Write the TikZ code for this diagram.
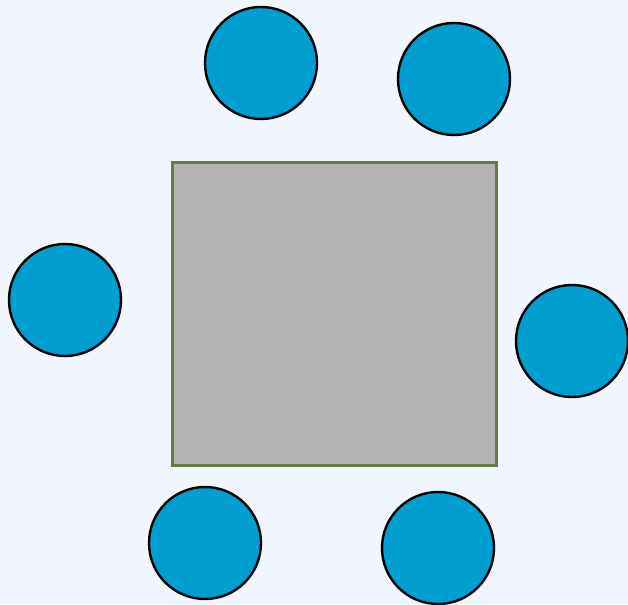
\documentclass[tikz,border=0pt]{standalone}
\definecolor{bgc}{HTML}{F0F5FE}
\definecolor{tablefill}{HTML}{B3B3B3}
\definecolor{tableline}{HTML}{667A45}
\definecolor{seatfill}{HTML}{009FD0}
\tikzset{
  seat/.style={circle, draw=black, fill=seatfill, line width=2.4pt, minimum size=112pt, inner sep=0pt},
  tablebox/.style={draw=tableline, fill=tablefill, line width=3pt, inner sep=0pt}
}
\begin{document}
\begin{tikzpicture}[x=1pt,y=-1pt]
\path[use as bounding box] (0,0) rectangle (628,604);
\clip (0,0) rectangle (628,604);
\fill[bgc] (0,0) rectangle (628,604);
\node[tablebox, minimum width=324pt, minimum height=303pt] (table) at (334.5,314) {};
\node[seat] (s1) at (261,63) {};
\node[seat] (s2) at (454,79) {};
\node[seat] (s3) at (65,300) {};
\node[seat] (s4) at (572,341) {};
\node[seat] (s5) at (205,543) {};
\node[seat] (s6) at (438,548) {};
\end{tikzpicture}
\end{document}
